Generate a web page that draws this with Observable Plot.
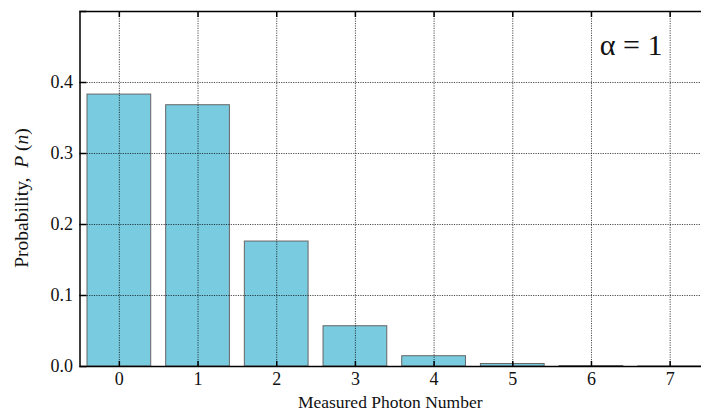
<!DOCTYPE html>
<html>
<head>
<meta charset="utf-8">
<script src="https://cdn.jsdelivr.net/npm/d3@7"></script>
<script src="https://cdn.jsdelivr.net/npm/@observablehq/plot@0.6"></script>
<style>
  html, body { margin: 0; padding: 0; background: white; }
  #chart svg { overflow: hidden; display: block; }
  #chart svg text { font-family: 'Liberation Serif', 'Times New Roman', serif !important; }
</style>
</head>
<body>
<div id="chart"></div>
<script>
const photonNumbers = [0, 1, 2, 3, 4, 5, 6, 7];
const probabilities = [0.383, 0.368, 0.176, 0.0567, 0.0145, 0.0035, 0.0006, 0.0001];
const yTicks = [0, 0.1, 0.2, 0.3, 0.4];
const yGrid = [0.1, 0.2, 0.3, 0.4];
const annotation = "α = 1";

const data = photonNumbers.map((n, i) => ({n, p: probabilities[i]}));
const serif = "'Liberation Serif', 'Times New Roman', serif";

const plot = Plot.plot({
  width: 701,
  height: 414,
  marginLeft: 79.5,
  marginRight: -8,
  marginTop: 11,
  marginBottom: 48,
  style: {fontFamily: serif, fontSize: "18px", color: "#111", background: "white"},
  x: {type: "band", domain: photonNumbers, paddingInner: 0.19, paddingOuter: 0.095, round: false},
  y: {domain: [0, 0.5]},
  marks: [
    Plot.barY(data, {x: "n", y: "p", fill: "#79cbdf", stroke: "#666", strokeWidth: 1}),
    Plot.gridX(photonNumbers, {stroke: "#000", strokeOpacity: 0.7, strokeDasharray: "1.2,1.2", strokeWidth: 1}),
    Plot.gridY(yGrid, {stroke: "#000", strokeOpacity: 0.7, strokeDasharray: "1.2,1.2", strokeWidth: 1}),
    Plot.frame({stroke: "#000", strokeWidth: 1.5}),
    Plot.axisY(yTicks, {tickSize: 0, tickPadding: 7, tickFormat: d3.format(".1f"), label: null, fontSize: 18}),
    Plot.axisY([0, 0.1, 0.2, 0.3, 0.4, 0.5], {tickSize: 7, dx: 7, text: null, label: null, stroke: "#000", strokeWidth: 1.5}),
    Plot.axisX(photonNumbers, {tickSize: 0, tickPadding: 6, label: null, fontSize: 18}),
    Plot.axisX(photonNumbers, {tickSize: 5, dy: -5, text: null, label: null, stroke: "#000", strokeWidth: 1.5}),
    Plot.axisX(photonNumbers, {anchor: "top", tickSize: 5, dy: 5, text: null, label: null, stroke: "#000", strokeWidth: 1.5}),
    Plot.text([annotation], {frameAnchor: "top-right", dx: -47, dy: 33.5, text: d => d, fontSize: 30, textAnchor: "end", lineAnchor: "middle", fill: "#111"})
  ]
});

const svg = d3.select(plot);
// x-axis title
svg.append("text")
  .attr("x", 79.5 + (701 - 79.5) / 2)
  .attr("y", 408)
  .attr("text-anchor", "middle")
  .attr("font-family", serif)
  .attr("font-size", 17.5)
  .attr("fill", "#111")
  .text("Measured Photon Number");
// y-axis title with italic parts
const yt = svg.append("text")
  .attr("transform", "translate(27.5,198) rotate(-90)")
  .attr("text-anchor", "middle")
  .attr("font-family", serif)
  .attr("font-size", 19.5)
  .attr("fill", "#111");
yt.append("tspan").text("Probability,  ");
yt.append("tspan").attr("font-style", "italic").text("P");
yt.append("tspan").text(" (");
yt.append("tspan").attr("font-style", "italic").text("n");
yt.append("tspan").text(")");

document.getElementById("chart").appendChild(plot);
</script>
</body>
</html>
